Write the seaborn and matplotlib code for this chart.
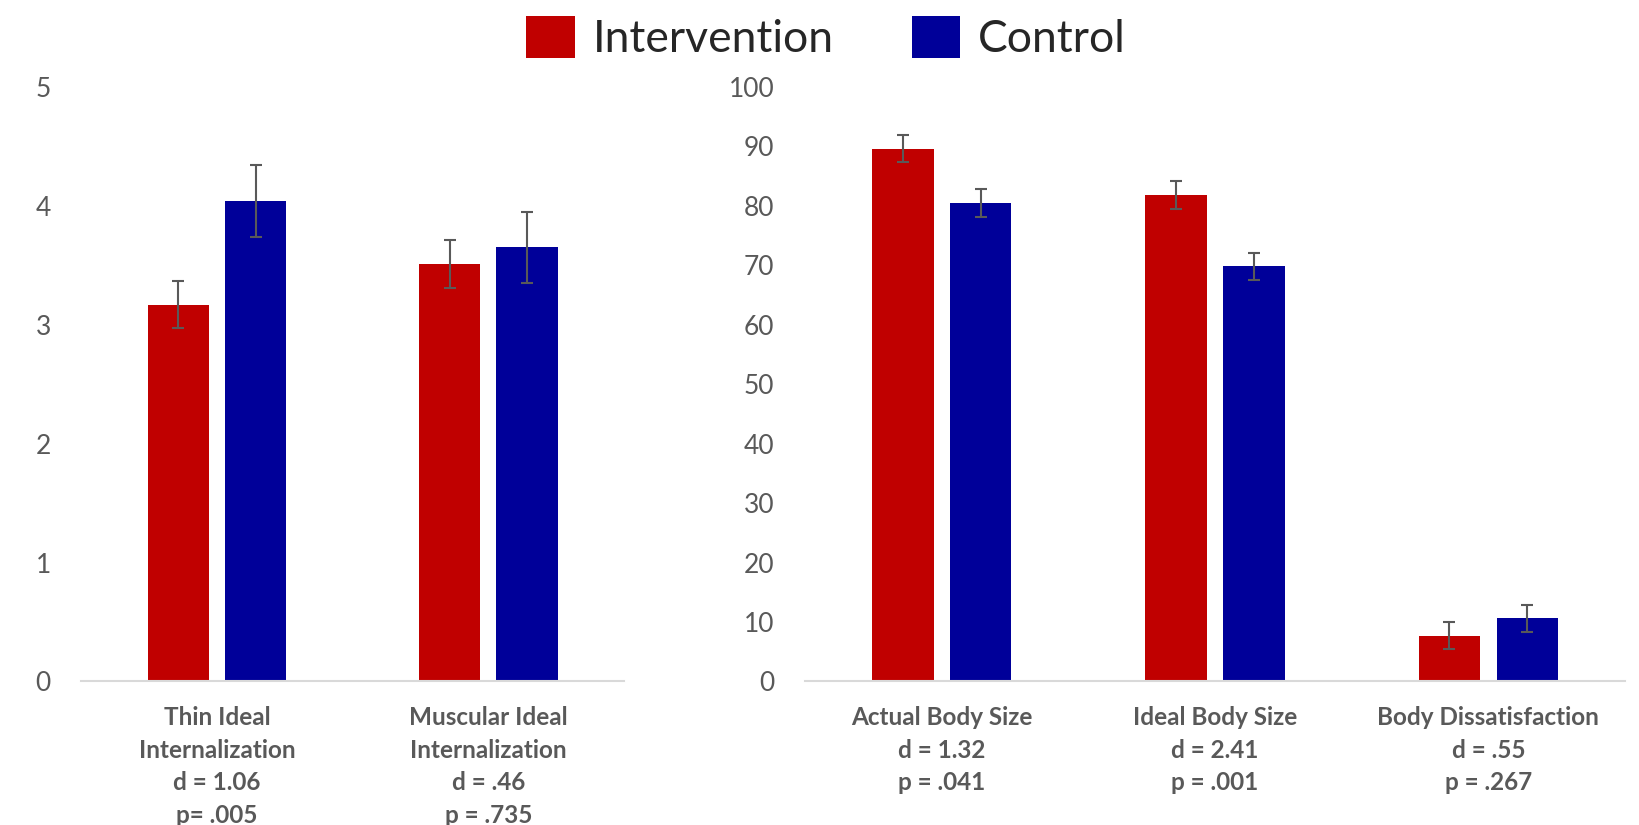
import numpy as np
import pandas as pd
import matplotlib
matplotlib.use("Agg")
import matplotlib.pyplot as plt
from matplotlib.patches import Patch
import seaborn as sns

# data
groups = ["Intervention", "Control"]
colors = ["#C00000", "#000099"]

left_measures = ["Thin Ideal\nInternalization", "Muscular Ideal\nInternalization"]
left_stats = ["d = 1.06\np= .005", "d = .46\np = .735"]
left_intervention = [3.17, 3.51]
left_control = [4.04, 3.65]
left_intervention_err = [0.20, 0.20]
left_control_err = [0.30, 0.30]

right_measures = ["Actual Body Size", "Ideal Body Size", "Body Dissatisfaction"]
right_stats = ["d = 1.32\np = .041", "d = 2.41\np = .001", "d = .55\np = .267"]
right_intervention = [89.6, 81.8, 7.7]
right_control = [80.5, 69.8, 10.6]
right_intervention_err = [2.3, 2.3, 2.3]
right_control_err = [2.3, 2.3, 2.3]

sns.set_style("white")
plt.rcParams["font.family"] = ["Lato", "DejaVu Sans"]

GREY = "#595959"


def long_frame(measures, stats, inter, ctrl):
    labels = [f"{m}\n{s}" for m, s in zip(measures, stats)]
    rows = []
    for lab, v in zip(labels, inter):
        rows.append({"measure": lab, "group": "Intervention", "value": v})
    for lab, v in zip(labels, ctrl):
        rows.append({"measure": lab, "group": "Control", "value": v})
    return pd.DataFrame(rows), labels


def draw_panel(ax, measures, stats, inter, ctrl, inter_err, ctrl_err, ymax, step):
    df, labels = long_frame(measures, stats, inter, ctrl)
    sns.barplot(data=df, x="measure", y="value", hue="group", order=labels,
                hue_order=groups, palette=colors, saturation=1, width=0.57,
                gap=0.21, errorbar=None, legend=False, ax=ax, linewidth=0)
    for container, errs in zip(ax.containers, [inter_err, ctrl_err]):
        for bar, e in zip(container, errs):
            ax.errorbar(bar.get_x() + bar.get_width() / 2, bar.get_height(), yerr=e,
                        fmt="none", ecolor=GREY, elinewidth=1.5, capsize=4, capthick=1.5)
    ax.set_ylim(0, ymax)
    ax.set_xlim(-0.5, len(labels) - 0.5)
    ax.set_yticks(np.arange(0, ymax + step / 2, step))
    ax.set_xlabel("")
    ax.set_ylabel("")
    for s in ["top", "right", "left"]:
        ax.spines[s].set_visible(False)
    ax.spines["bottom"].set_color("#D9D9D9")
    ax.spines["bottom"].set_linewidth(1.5)
    ax.tick_params(axis="both", length=0)
    ax.tick_params(axis="y", labelsize=19, labelcolor=GREY, pad=22)
    ax.tick_params(axis="x", labelsize=17.5, labelcolor=GREY, pad=18)
    for t in ax.get_xticklabels():
        t.set_fontweight("bold")
        t.set_linespacing(1.5)
        t.set_verticalalignment("top")


fig = plt.figure(figsize=(16.39, 8.25), dpi=100)
ax1 = fig.add_axes([0.0497, 0.174, 0.331, 0.7206])
ax2 = fig.add_axes([0.4912, 0.174, 0.5003, 0.7206])

draw_panel(ax1, left_measures, left_stats, left_intervention, left_control,
           left_intervention_err, left_control_err, 5, 1)
draw_panel(ax2, right_measures, right_stats, right_intervention, right_control,
           right_intervention_err, right_control_err, 100, 10)

handles = [Patch(facecolor=c, edgecolor="none", label=g) for g, c in zip(groups, colors)]
fig.legend(handles=handles, loc="center", bbox_to_anchor=(0.504, 0.954), ncol=2,
           frameon=False, fontsize=32, handlelength=1.1, handleheight=1.1,
           handletextpad=0.4, columnspacing=1.75)

fig.savefig("out.png", dpi=100)
